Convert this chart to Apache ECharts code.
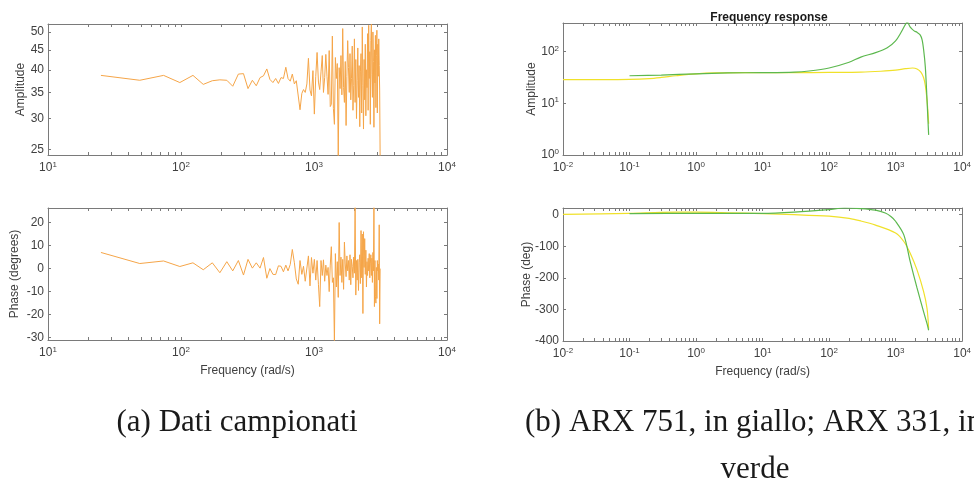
<!DOCTYPE html>
<html><head><meta charset="utf-8">
<script src="https://cdn.jsdelivr.net/npm/echarts@6/dist/echarts.min.js"></script>
<style>html,body{margin:0;padding:0;background:#fff}#c{width:974px;height:484px}</style>
</head><body><div id="c"></div>
<script>
// ---------- data ----------
const sampledFreq = [25,49,74,98,123,147,172,196,221,245,270,295,319,344,368,393,417,442,466,491,515,540,565,589,614,638,663,687,712,736,761,785,810,834,859,884,908,933,957,982,1006,1031,1055,1080,1104,1129,1154,1178,1203,1227,1252,1276,1301,1325,1350,1374,1399,1424,1448,1473,1497,1522,1546,1571,1595,1620,1644,1669,1693,1718,1743,1767,1792,1816,1841,1865,1890,1914,1939,1963,1988,2013,2037,2062,2086,2111,2135,2160,2184,2209,2233,2258,2283,2307,2332,2356,2381,2405,2430,2454,2479,2503,2528,2553,2577,2602,2626,2651,2675,2700,2724,2749,2773,2798,2822,2847,2872,2896,2921,2945,2970,2994,3019,3043,3068,3093,3117,3142];
const sampledAmp = [38.7,37.6,38.7,37.1,38.7,36.7,37.5,37.7,37.6,36.3,39.0,39.1,35.8,37.6,36.4,38.2,38.6,40.2,37.8,37.1,38.0,36.9,38.2,38.0,40.6,38.0,37.4,39.0,36.8,37.5,37.4,31.6,34.8,35.6,35.0,36.8,42.8,35.5,34.3,39.8,30.8,38.5,44.3,37.2,35.6,39.5,43.5,35.0,38.2,43.8,38.5,34.6,44.8,32.2,32.6,48.8,31.8,29.0,43.0,38.0,41.5,24.0,40.5,35.8,43.5,34.5,51.0,36.0,33.0,42.0,28.8,38.5,47.5,40.5,35.0,44.0,33.5,38.0,46.0,31.5,36.5,48.0,33.0,42.5,30.0,37.5,45.5,34.0,41.0,28.6,39.5,44.0,31.0,51.5,36.5,28.2,42.5,33.5,46.5,30.5,40.0,36.0,49.5,31.5,52.0,38.0,44.5,29.0,47.5,52.3,39.0,34.0,50.0,42.0,28.5,45.0,37.0,49.0,32.0,43.5,50.5,31.0,46.5,38.5,48.0,41.0,35.5,24.0];
const sampledPhase = [7.0,2.2,3.3,0.9,2.5,-0.5,2.5,-1.8,3.0,-1.0,3.5,-2.8,4.0,0.2,2.5,0.2,4.8,-4.2,0.0,-2.5,-2.6,1.2,1.0,-1.4,1.5,-1.0,1.8,8.3,2.5,-4.5,-6.8,3.5,-2.5,1.0,-5.5,-6.0,5.5,-7.5,4.8,-2.0,4.0,-5.0,3.5,-7.0,-16.5,3.5,-3.0,3.8,-5.5,1.5,-3.0,0.5,-10.0,1.5,9.5,-6.0,-4.0,-32.0,6.5,-8.0,3.0,-12.5,20.0,-3.0,5.0,-6.0,4.0,-9.0,11.5,2.0,-3.5,5.5,-1.0,3.5,-5.0,6.0,-7.0,4.0,1.0,-4.0,5.0,-2.0,26.5,-11.5,3.5,-5.0,4.0,-9.5,2.5,6.0,-6.5,16.5,-4.0,15.0,-19.5,16.0,0.5,13.0,-2.5,8.0,-8.0,3.0,-3.0,4.5,-1.0,6.5,-4.0,2.0,6.0,-3.0,4.5,-6.0,7.0,-1.0,26.5,-16.5,3.5,-12.0,-15.0,0.5,-13.0,3.5,-1.0,2.0,-5.0,19.0,-24.0,0.0];

const arx751AmpFreq = [0.01,0.03,0.1,0.2,0.3,0.5,1,2,5,10,30,100,300,600,1000,1400,1800,2100,2400,2640,2800,2970,3060,3142];
const arx751Amp = [28.5,28.6,29,30,31.5,34,37,38.5,39,39,39,39.5,40,41.5,43.5,46.5,48,46,40,31,22,11.5,7,4];
const arx331AmpFreq = [0.1,0.3,1,3,10,30,50,100,200,300,500,750,1000,1200,1400,1500,1650,1900,2100,2340,2500,2640,2800,2970,3060,3142];
const arx331Amp = [34,35,37,38.5,39,40,42,48,62,78,95,118,160,230,330,370,300,250,235,210,170,108,50,11.6,5,2.45];
const arx751PhaseFreq = [0.01,0.1,0.3,1,3,10,30,100,200,300,500,1000,1330,1660,2100,2640,2970,3142];
const arx751Phase = [1,4,7,8,6,3,0,-5,-12,-20,-33,-58,-85,-122,-175,-244,-297,-361];
const arx331PhaseFreq = [0.1,1,10,30,100,170,300,500,700,850,1000,1330,1660,2100,2640,2970,3142];
const arx331Phase = [3,4,4,8,16,21,19,14,5,-6,-21,-64,-149,-232,-308,-345,-366];

const xLabelsLeft = [10,100,1000,10000];
const xLabelsRight = [0.01,0.1,1,10,100,1000,10000];
const ampLabelsLeft = [25,30,35,40,45,50];
const ampLabelsRight = [1,10,100];
const phaseLabelsLeft = [-30,-20,-10,0,10,20];
const phaseLabelsRight = [-400,-300,-200,-100,0];

// ---------- helpers ----------
const zip = (xs, ys) => xs.map((x, i) => [x, ys[i]]);
function minorTicks(decades) {
  const out = [];
  for (let i = 0; i < decades.length - 1; i++) {
    for (let m = 1; m < 10; m++) out.push(decades[i] * m);
  }
  out.push(decades[decades.length - 1]);
  return out;
}
const txt = '#404040', axc = '#7a7a7a';
const FONT = 'Liberation Sans, Arial, sans-serif';
const SERIF = 'Liberation Serif, serif';
const richLog = {
  b: { fontSize: 12, color: txt, fontFamily: FONT, lineHeight: 14 },
  s: { fontSize: 8, color: txt, fontFamily: FONT, lineHeight: 8, verticalAlign: 'top' }
};
const logFmt = v => '{b|10}{s|' + Math.round(Math.log10(v)) + '}';

function xAx(grid, labels, showName, mirror) {
  return {
    type: 'log', gridIndex: grid, min: labels[0], max: labels[labels.length - 1],
    position: mirror ? 'top' : 'bottom',
    axisLine: { show: true, onZero: false, lineStyle: { color: axc, width: 1 } },
    axisTick: { show: true, inside: true, length: 3, lineStyle: { color: axc }, customValues: minorTicks(labels) },
    axisLabel: mirror ? { show: false } : { show: true, customValues: labels, formatter: logFmt, rich: richLog, margin: 6, fontSize: 12, color: txt },
    splitLine: { show: false }, minorTick: { show: false },
    name: showName && !mirror ? 'Frequency (rad/s)' : '', nameLocation: 'middle', nameGap: 25, nameMoveOverlap: false,
    nameTextStyle: { fontSize: 12, color: txt, fontFamily: FONT }
  };
}
function yAx(grid, type, min, max, labels, name, gap, mirror, fmt) {
  return {
    type, gridIndex: grid, min, max, position: mirror ? 'right' : 'left',
    axisLine: { show: true, onZero: false, lineStyle: { color: axc, width: 1 } },
    axisTick: { show: true, inside: true, length: 3, lineStyle: { color: axc }, customValues: labels },
    axisLabel: mirror ? { show: false } : (fmt === 'pow'
      ? { show: true, customValues: labels, formatter: logFmt, rich: richLog, margin: 4, fontSize: 12, color: txt }
      : { show: true, customValues: labels, formatter: v => String(Math.round(v)), margin: 4, fontSize: 12, color: txt, fontFamily: FONT }),
    splitLine: { show: false },
    name: mirror ? '' : name, nameLocation: 'middle', nameGap: gap, nameRotate: 90, nameMoveOverlap: false,
    nameTextStyle: { fontSize: 12, color: txt, fontFamily: FONT }
  };
}

const chart = echarts.init(document.getElementById('c'), null, { renderer: 'canvas' });
chart.setOption({
  animation: false,
  backgroundColor: '#fff',
  textStyle: { fontFamily: FONT },
  title: {
    text: 'Frequency response', left: 764, top: 7, textAlign: 'center',
    textStyle: { fontSize: 12, fontWeight: 'bold', color: '#1a1a1a', fontFamily: FONT }
  },
  grid: [
    { left: 48, top: 24, width: 399, height: 131 },
    { left: 48, top: 208, width: 399, height: 132 },
    { left: 563, top: 23, width: 402, height: 132 },
    { left: 563, top: 208, width: 402, height: 133 }
  ],
  xAxis: [
    xAx(0, xLabelsLeft, false, false), xAx(1, xLabelsLeft, true, false),
    xAx(2, xLabelsRight, false, false), xAx(3, xLabelsRight, true, false),
    xAx(0, xLabelsLeft, false, true), xAx(1, xLabelsLeft, false, true),
    xAx(2, xLabelsRight, false, true), xAx(3, xLabelsRight, false, true)
  ],
  yAxis: [
    yAx(0, 'log', 24.2, 52.4, ampLabelsLeft, 'Amplitude', 21, false, 'num'),
    yAx(1, 'value', -31, 26.3, phaseLabelsLeft, 'Phase (degrees)', 27, false, 'num'),
    yAx(2, 'log', 1, 355, ampLabelsRight, 'Amplitude', 25, false, 'pow'),
    yAx(3, 'value', -400, 21, phaseLabelsRight, 'Phase (deg)', 30, false, 'num'),
    yAx(0, 'log', 24.2, 52.4, ampLabelsLeft, '', 0, true, 'num'),
    yAx(1, 'value', -31, 26.3, phaseLabelsLeft, '', 0, true, 'num'),
    yAx(2, 'log', 1, 355, ampLabelsRight, '', 0, true, 'pow'),
    yAx(3, 'value', -400, 21, phaseLabelsRight, '', 0, true, 'num')
  ],
  series: [
    { type: 'line', xAxisIndex: 0, yAxisIndex: 0, data: zip(sampledFreq, sampledAmp), showSymbol: false, lineStyle: { color: '#f5a548', width: 1 } },
    { type: 'line', xAxisIndex: 1, yAxisIndex: 1, data: zip(sampledFreq, sampledPhase), showSymbol: false, lineStyle: { color: '#f5a548', width: 1 } },
    { type: 'line', xAxisIndex: 2, yAxisIndex: 2, data: zip(arx751AmpFreq, arx751Amp), showSymbol: false, smooth: 0.3, lineStyle: { color: '#f0e12a', width: 1.2 } },
    { type: 'line', xAxisIndex: 2, yAxisIndex: 2, data: zip(arx331AmpFreq, arx331Amp), showSymbol: false, smooth: 0.3, lineStyle: { color: '#5cb84e', width: 1.2 } },
    { type: 'line', xAxisIndex: 3, yAxisIndex: 3, data: zip(arx751PhaseFreq, arx751Phase), showSymbol: false, smooth: 0.3, lineStyle: { color: '#f0e12a', width: 1.2 } },
    { type: 'line', xAxisIndex: 3, yAxisIndex: 3, data: zip(arx331PhaseFreq, arx331Phase), showSymbol: false, smooth: 0.3, lineStyle: { color: '#5cb84e', width: 1.2 } }
  ],
  graphic: [
    { type: 'text', x: 237, y: 423, style: { text: '(a) Dati campionati', fontSize: 31, fontFamily: SERIF, fill: '#1a1a1a', align: 'center', verticalAlign: 'middle' } },
    { type: 'text', x: 525, y: 423, style: { text: '(b) ARX 751, in giallo; ARX 331, in', fontSize: 31, fontFamily: SERIF, fill: '#1a1a1a', align: 'left', verticalAlign: 'middle' } },
    { type: 'text', x: 755, y: 470, style: { text: 'verde', fontSize: 31, fontFamily: SERIF, fill: '#1a1a1a', align: 'center', verticalAlign: 'middle' } }
  ]
});
</script></body></html>
